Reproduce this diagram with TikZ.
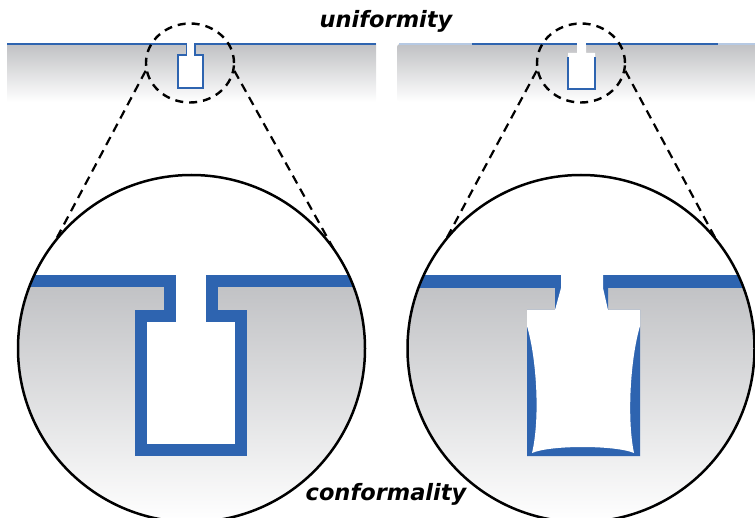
\documentclass[tikz,border=0pt]{standalone}
\usepackage{fontspec}
\newfontfamily\labelfont{DejaVu Sans}
\usetikzlibrary{shapes.geometric}

\definecolor{liner}{RGB}{46,100,176}
\definecolor{wafer}{RGB}{192,193,196}

\tikzset{
  barrier/.style={draw=liner, line width=1.6pt, miter limit=4},
  lensring/.style={ellipse, draw, line width=2.4pt, dash pattern=on 8pt off 6pt,
    minimum width=88pt, minimum height=79pt, inner sep=0pt},
  zoomline/.style={line width=2.2pt, dash pattern=on 9pt off 6pt},
  bigring/.style={line width=2.5pt},
  tag/.style={font=\labelfont\bfseries\itshape\fontsize{22.5}{27}\selectfont, inner sep=0pt, anchor=base}
}

\begin{document}
\begin{tikzpicture}[x=1pt,y=-1pt]
\useasboundingbox (0,0) rectangle (755,518);

% wafers before and after
\shade[top color=wafer, bottom color=white] (7,44) rectangle (376,102);
\shade[top color=wafer, bottom color=white, rounded corners=3pt] (397,44) rectangle (758,102);

% left trench, liner follows the walls
\fill[white] (186.5,40) rectangle (195,55) (178,55) rectangle (203,88);
\draw[barrier] (7,44) -- (186.5,44) -- (186.5,55) -- (178,55) -- (178,88)
  -- (203,88) -- (203,55) -- (195,55) -- (195,44) -- (376,44);

% right trench, liner only on the field, walls and floor
\fill[white] (577,40) rectangle (586,53) (568,53) rectangle (595,89);
\draw[barrier, draw=liner!35, line width=1.2pt] (399,44) -- (472,44) (718,44) -- (755,44);
\draw[barrier, line width=1.2pt] (472,44) -- (577,44) (586,44) -- (718,44);
\draw[barrier, line width=1.2pt] (568,57) -- (568,89) -- (595,89) -- (595,57);

% magnifier rings
\node[lensring] (lensL) at (190,63) {};
\node[lensring] (lensR) at (581,63) {};

\coordinate (bigL) at (191.5,348.5);
\coordinate (bigR) at (581,348.5);
\coordinate (viewLa) at (47.7,255);
\coordinate (viewLb) at (342.6,265);
\coordinate (viewRa) at (437.6,255);
\coordinate (viewRb) at (724.4,255);

\draw[zoomline] (lensL.190) -- (viewLa);
\draw[zoomline] (lensL.-10) -- (viewLb);
\draw[zoomline] (lensR.190) -- (viewRa);
\draw[zoomline] (lensR.-10) -- (viewRb);

% close-up, uniform liner
\begin{scope}
  \clip (bigL) circle (173.5);
  \fill[white] (bigL) circle (173.5);
  \shade[top color=wafer, bottom color=white] (0,281) rectangle (380,522);
  \fill[white] (170,268) rectangle (212,316) (141,316) rectangle (241,450);
  \draw[barrier, line width=12.5pt] (0,281) -- (170,281) -- (170,316) -- (141,316)
    -- (141,450) -- (241,450) -- (241,316) -- (212,316) -- (212,281) -- (380,281);
\end{scope}
\draw[bigring] (bigL) circle (173.5);

% close-up, overhang and thin sidewalls
\begin{scope}
  \clip (bigR) circle (173.5);
  \fill[white] (bigR) circle (173.5);
  \shade[top color=wafer, bottom color=white] (380,281) rectangle (760,522);
  \fill[liner] (380,275) rectangle (760,288);
  \fill[liner] (555,288) rectangle (608,310) (527,310) rectangle (640,456);
  \fill[white] (561,270) -- (603,270) -- (603,288) -- (608,310) -- (640,310) -- (640,326)
    .. controls (630,360) and (627,420) .. (634,453)
    .. controls (615,445) and (550,445) .. (532,453)
    .. controls (540,420) and (537,360) .. (527,326)
    -- (527,310) -- (555,310) -- (561,288) -- cycle;
\end{scope}
\draw[bigring] (bigR) circle (173.5);

\node[tag] (uni) at (386,28) {uniformity};
\node[tag] (conf) at (386,500) {conformality};

\end{tikzpicture}
\end{document}
